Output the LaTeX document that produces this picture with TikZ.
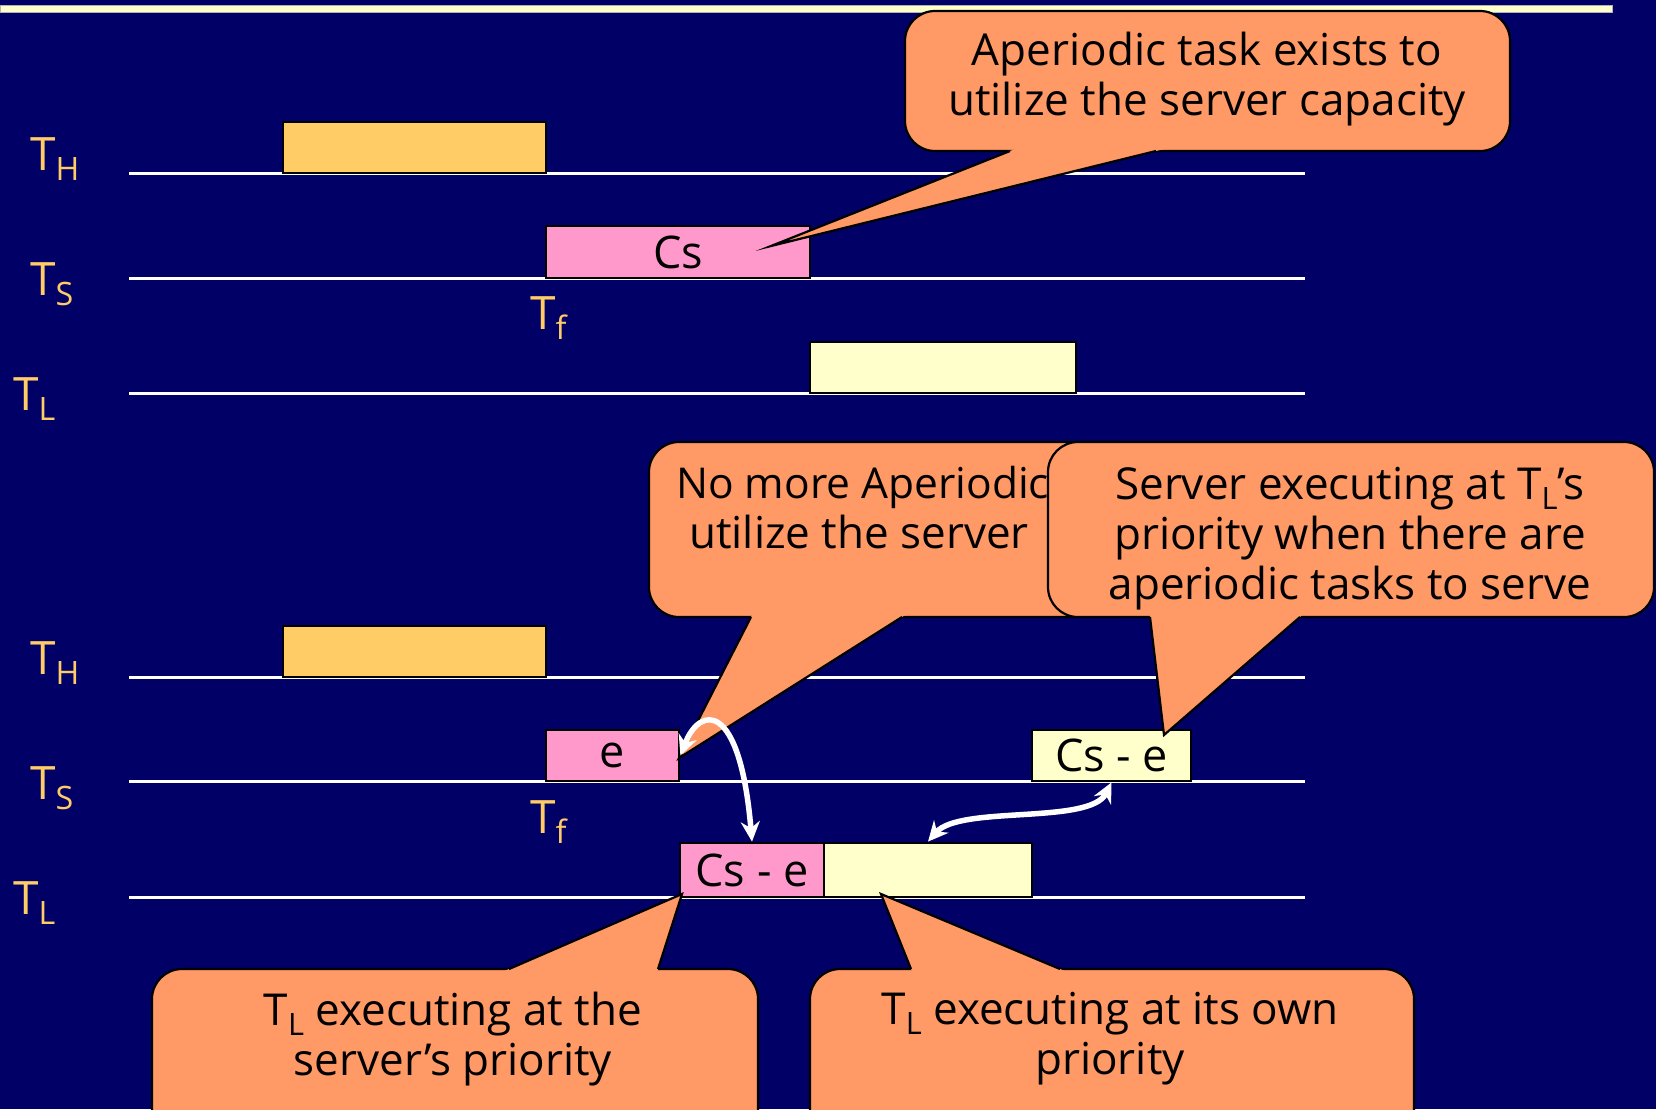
\documentclass[tikz,border=0pt]{standalone}
\usepackage{fontspec}
\setmainfont{Open Sans}
\usepackage{graphicx}
\usetikzlibrary{arrows.meta,calc}
\definecolor{navy}{HTML}{000066}
\definecolor{callout}{HTML}{FF9966}
\definecolor{hbox}{HTML}{FFCC66}
\definecolor{pinkbox}{HTML}{FF99CC}
\definecolor{ltyellow}{HTML}{FFFFCC}
\definecolor{labelcol}{HTML}{FFCC66}
\newcommand\lowsub[1]{\raisebox{-0.22em}{\scalebox{0.7}{#1}}}
\begin{document}
\begin{tikzpicture}[x=1pt,y=-1pt,
  timeline/.style={white, line width=3pt},
  task/.style={draw=black, line width=2.8pt, inner sep=0pt, font=\fontsize{45}{45}\selectfont},
  tasklabel/.style={text=labelcol, anchor=base west, inner sep=0pt, font=\fontsize{46}{46}\selectfont},
  cbox/.style={fill=callout, draw=black, line width=2.2pt, rounded corners=30pt},
  cfill/.style={fill=callout},
  cedge/.style={draw=black, line width=2.2pt, line join=miter, miter limit=40},
  ctext/.style={align=center, inner sep=0pt, font=\fontsize{44}{50}\selectfont},
  link/.style={white, line width=5.5pt, {Stealth[length=20pt,width=19pt]}-{Stealth[length=20pt,width=19pt]}}
]
\clip (0,0) rectangle (1656,1109);
\fill[navy] (0,0) rectangle (1656,1109);
\fill[ltyellow, draw=gray!60, line width=0.6pt] (0,5) rectangle (1612,12);

% ---------- top schedule ----------
\foreach \y in {173,278,393} \draw[timeline] (129,\y) -- (1305,\y);
\node[tasklabel] (lTHa) at (30,170) {T\lowsub{H}};
\node[tasklabel] (lTSa) at (30,295) {T\lowsub{S}};
\node[tasklabel] (lTLa) at (13,410) {T\lowsub{L}};
\node[tasklabel] (lTfa) at (530,329) {T\lowsub{f}};
\node[task, fill=hbox, minimum width=263pt, minimum height=51pt] (thA) at (414.5,147.5) {};
\node[task, fill=pinkbox, minimum width=264pt, minimum height=52pt] (tsA) at (678,252) {Cs};
\node[task, fill=ltyellow, minimum width=266pt, minimum height=51pt] (tlA) at (943,367.5) {};

% ---------- bottom schedule ----------
\foreach \y in {677,781,897} \draw[timeline] (129,\y) -- (1305,\y);
\node[tasklabel] (lTHb) at (30,674) {T\lowsub{H}};
\node[tasklabel] (lTSb) at (30,799) {T\lowsub{S}};
\node[tasklabel] (lTLb) at (13,914) {T\lowsub{L}};
\node[tasklabel] (lTfb) at (530,833) {T\lowsub{f}};
\node[task, fill=hbox, minimum width=263pt, minimum height=51pt] (thB) at (414.5,651.5) {};
\node[task, fill=pinkbox, minimum width=133pt, minimum height=51pt] (eB) at (612.5,755.5) {e};
\node[task, fill=ltyellow, minimum width=159pt, minimum height=51pt] (cseY) at (1111.5,755.5) {Cs - e};
\node[task, fill=pinkbox, minimum width=144pt, minimum height=54pt] (csePink) at (752,870) {Cs - e};
\node[task, fill=ltyellow, minimum width=208pt, minimum height=54pt] (tlY) at (928,870) {};

% ---------- callout 1 ----------
\filldraw[cbox] (905,11) rectangle (1510,151);
\coordinate (p1a) at (1010,151); \coordinate (p1b) at (1156,151); \coordinate (p1t) at (771,246);
\fill[cfill] ($(p1a)!-0.08!(p1t)$) -- (p1t) -- ($(p1b)!-0.08!(p1t)$) -- cycle;
\draw[cedge] (p1a) -- (p1t) -- (p1b);
\node[ctext] (t1) at (1207,79) {Aperiodic task exists to\\utilize the server capacity};

% ---------- callout 2 ----------
\filldraw[cbox] (649,442) rectangle (1150,617);
\coordinate (p2a) at (751,617); \coordinate (p2b) at (902,617); \coordinate (p2t) at (679,758);
\fill[cfill] ($(p2a)!-0.08!(p2t)$) -- (p2t) -- ($(p2b)!-0.08!(p2t)$) -- cycle;
\draw[cedge] (p2a) -- (p2t) -- (p2b);
\node[ctext, anchor=base west, font=\fontsize{42.5}{50}\selectfont] (t2a) at (676,498) {No more Aperiodic};
\node[ctext, anchor=base west] (t2b) at (689,548) {utilize the server};

% ---------- callout 3 ----------
\filldraw[cbox] (1048,442) rectangle (1654,617);
\coordinate (p3a) at (1150,617); \coordinate (p3b) at (1300,617); \coordinate (p3t) at (1164,735);
\fill[cfill] ($(p3a)!-0.08!(p3t)$) -- (p3t) -- ($(p3b)!-0.08!(p3t)$) -- cycle;
\draw[cedge] (p3a) -- (p3t) -- (p3b);
\node[ctext] (t3) at (1350,539) {Server executing at T\lowsub{L}'s\\priority when there are\\aperiodic tasks to serve};

% ---------- callout 4 ----------
\filldraw[cbox] (152,969) rectangle (758,1160);
\coordinate (p4a) at (509,969); \coordinate (p4b) at (658,969); \coordinate (p4t) at (682,894);
\fill[cfill] ($(p4a)!-0.08!(p4t)$) -- (p4t) -- ($(p4b)!-0.08!(p4t)$) -- cycle;
\draw[cedge] (p4a) -- (p4t) -- (p4b);
\node[ctext] (t4) at (453,1039) {T\lowsub{L} executing at the\\server's priority};

% ---------- callout 5 ----------
\filldraw[cbox] (810,969) rectangle (1414,1160);
\coordinate (p5a) at (911,969); \coordinate (p5b) at (1060,969); \coordinate (p5t) at (881,894);
\fill[cfill] ($(p5a)!-0.08!(p5t)$) -- (p5t) -- ($(p5b)!-0.08!(p5t)$) -- cycle;
\draw[cedge] (p5a) -- (p5t) -- (p5b);
\node[ctext] (t5) at (1110,1039) {T\lowsub{L} executing at its own\\priority};

% ---------- arrows ----------
\draw[link] (eB.east) .. controls (700,705) and (740,700) .. (csePink.north);
\draw[link] (tlY.north) .. controls (960,805) and (1090,825) .. (cseY.south);
\end{tikzpicture}
\end{document}
